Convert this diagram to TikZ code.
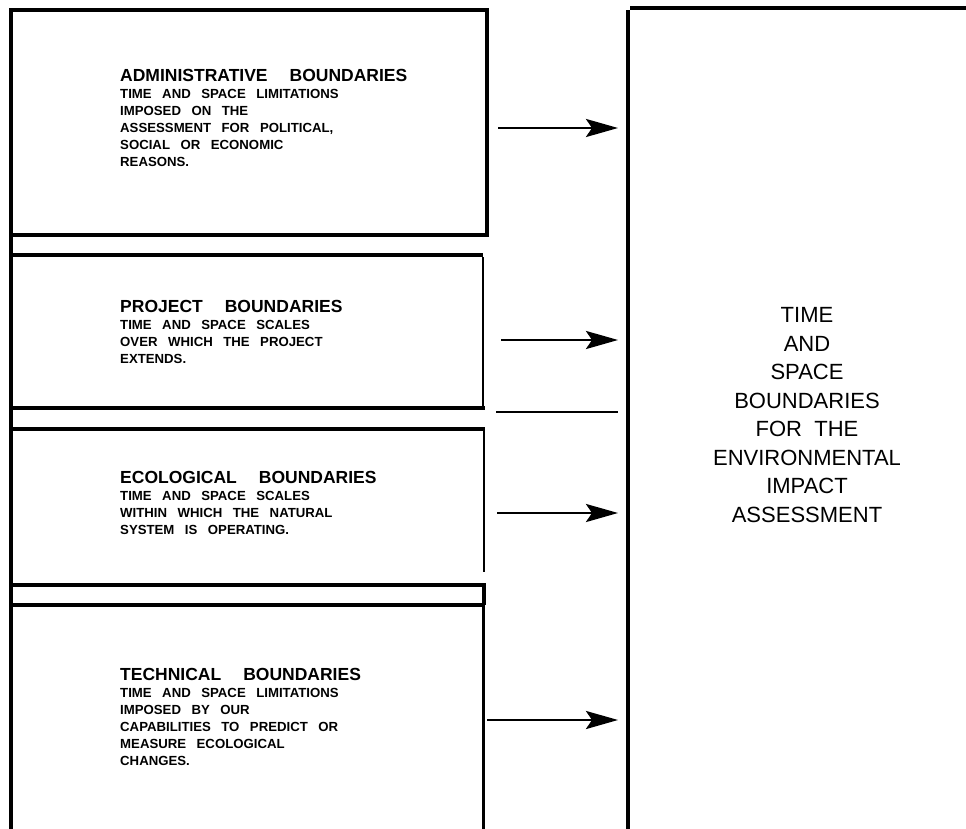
\documentclass[tikz,border=0pt]{standalone}
\usepackage{fontspec}
\setmainfont{Liberation Sans}
\usetikzlibrary{arrows.meta}
\tikzset{>={Stealth[length=32pt,width=18pt,inset=6pt]}}
\newcommand\boxsize{\bfseries\fontsize{13.2}{17}\selectfont\spaceskip10.5pt\relax}
\newcommand\boxtitle[1]{{\fontsize{17.5}{17}\selectfont\spaceskip22pt\relax #1}}
\tikzset{
  frame/.style={line width=3.5pt},
  thinframe/.style={line width=2pt},
  flow/.style={->,line width=2.7pt,shorten >=10pt},
  boxtext/.style={anchor=north west,inner sep=0pt,align=left,font=\boxsize},
}

\begin{document}
\begin{tikzpicture}[x=1pt,y=-1pt]
    \useasboundingbox (0,0) rectangle (966,829);

    \draw [frame] (11,829) -- (11,10) -- (487,10) -- (487,235) -- (11,235);
    \draw [frame] (11,255) -- (483,255);
    \draw [thinframe] (483,257) -- (483,408);
    \draw [frame] (11,408) -- (485,408);
    \draw [frame] (11,429) -- (485,429);
    \draw [thinframe] (484,429) -- (484,572);
    \draw [frame] (11,585) -- (484,585) -- (484,605);
    \draw [frame] (11,605) -- (485,605);
    \draw [line width=3pt] (483,605) -- (483,829);
    \draw [line width=1.2pt] (496,412) -- (618,412);

    \coordinate (rbox) at (628,8);
    \draw [line width=4pt] (628,829) -- (628,10);
    \draw [line width=4pt] (630,8) -- (966,8);

    \node [boxtext] (admin) at (120,69.5) {\boxtitle{ADMINISTRATIVE BOUNDARIES}\\TIME AND SPACE LIMITATIONS\\IMPOSED ON THE\\ASSESSMENT FOR POLITICAL,\\SOCIAL OR ECONOMIC\\REASONS.};
    \node [boxtext] (project) at (120,300.5) {\boxtitle{PROJECT BOUNDARIES}\\TIME AND SPACE SCALES\\OVER WHICH THE PROJECT\\EXTENDS.};
    \node [boxtext] (eco) at (120,471.5) {\boxtitle{ECOLOGICAL BOUNDARIES}\\TIME AND SPACE SCALES\\WITHIN WHICH THE NATURAL\\SYSTEM IS OPERATING.};
    \node [boxtext] (tech) at (120,668.5) {\boxtitle{TECHNICAL BOUNDARIES}\\TIME AND SPACE LIMITATIONS\\IMPOSED BY OUR\\CAPABILITIES TO PREDICT OR\\MEASURE ECOLOGICAL\\CHANGES.};

    \node [align=center,inner sep=0pt,font=\fontsize{22}{28.5}\selectfont] (result) at (807,415) {TIME\\AND\\SPACE\\BOUNDARIES\\FOR\ \ THE\\ENVIRONMENTAL\\IMPACT\\ASSESSMENT};

    \coordinate (a1) at (498,128);
    \coordinate (a2) at (501,340);
    \coordinate (a3) at (497,513);
    \coordinate (a4) at (487,720);
    \draw [flow] (a1) -- (a1 -| rbox);
    \draw [flow] (a2) -- (a2 -| rbox);
    \draw [flow] (a3) -- (a3 -| rbox);
    \draw [flow] (a4) -- (a4 -| rbox);
\end{tikzpicture}
\end{document}
